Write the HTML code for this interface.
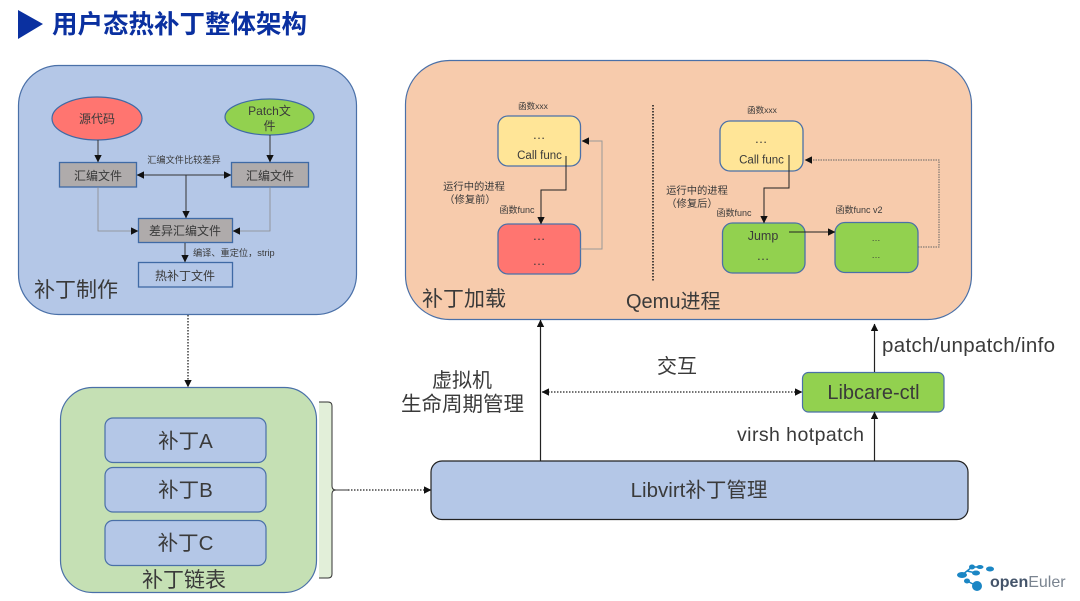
<!DOCTYPE html>
<html><head><meta charset="utf-8">
<style>
html,body{margin:0;padding:0;background:#fff;width:1080px;height:601px;overflow:hidden}
svg{display:block}
text{font-family:"Liberation Sans","Noto Sans CJK SC",sans-serif;fill:#3a3a3a}
</style></head><body>
<svg width="1080" height="601" viewBox="0 0 1080 601" xmlns="http://www.w3.org/2000/svg">
<defs>
<marker id="a" viewBox="0 0 10 10" refX="9.500" refY="5" markerWidth="7.500" markerHeight="7.500" orient="auto-start-reverse" markerUnits="userSpaceOnUse"><path d="M0 0L10 5L0 10z" fill="#111"/></marker>
</defs>
<!-- title -->
<path d="M18 10L43 24L18 39z" fill="#0a30a0"/>
<text x="52" y="33" font-size="25.500" font-weight="700" style="fill:#0a30a0">用户态热补丁整体架构</text>

<!-- panels -->
<rect x="18.500" y="65.500" width="338" height="249" rx="40" fill="#b4c7e7" stroke="#4a70a8" stroke-width="1.200"/>
<rect x="405.500" y="60.500" width="566" height="259" rx="44" fill="#f7cbac" stroke="#4a70a8" stroke-width="1.200"/>
<rect x="60.500" y="387.500" width="256" height="205" rx="32" fill="#c5e0b4" stroke="#4a70a8" stroke-width="1.200"/>

<!-- left panel -->
<ellipse cx="97" cy="118.500" rx="45" ry="21.500" fill="#ff7570" stroke="#3f6aa5" stroke-width="1.200"/>
<ellipse cx="269.500" cy="117" rx="44.500" ry="18" fill="#92d14f" stroke="#3f6aa5" stroke-width="1.200"/>
<text x="97" y="123" font-size="12" text-anchor="middle">源代码</text>
<text x="269.500" y="115" font-size="12" text-anchor="middle">Patch文</text>
<text x="269.500" y="130" font-size="12" text-anchor="middle">件</text>
<rect x="59.500" y="162.500" width="77" height="24.500" fill="#afabab" stroke="#3f6aa5" stroke-width="1.300"/>
<rect x="231.500" y="162.500" width="77" height="24.500" fill="#afabab" stroke="#3f6aa5" stroke-width="1.300"/>
<rect x="138.500" y="218.500" width="94" height="24" fill="#afabab" stroke="#3f6aa5" stroke-width="1.300"/>
<rect x="138.500" y="262.500" width="94" height="24.500" fill="none" stroke="#3f6aa5" stroke-width="1.300"/>
<text x="98" y="180" font-size="12" text-anchor="middle">汇编文件</text>
<text x="270" y="180" font-size="12" text-anchor="middle">汇编文件</text>
<text x="185" y="235" font-size="12" text-anchor="middle">差异汇编文件</text>
<text x="185" y="280" font-size="12" text-anchor="middle">热补丁文件</text>
<text x="184" y="163" font-size="9.200" text-anchor="middle">汇编文件比较差异</text>
<text x="193" y="256" font-size="9.200">编译、重定位，strip</text>
<text x="34" y="297" font-size="21">补丁制作</text>
<g fill="none" stroke="#333" stroke-width="1">
<path d="M98 140V162" marker-end="url(#a)"/>
<path d="M270 135V162" marker-end="url(#a)"/>
<path d="M137 175H231" marker-start="url(#a)" marker-end="url(#a)"/>
<path d="M186 175V218" marker-end="url(#a)"/>
<path d="M185 243V262" marker-end="url(#a)"/>
</g>
<g fill="none" stroke="#8a8a8a" stroke-width=".8">
<path d="M98 187V231H138" marker-end="url(#a)"/>
<path d="M270 187V231H233" marker-end="url(#a)"/>
</g>
<path d="M188 315V387" fill="none" stroke="#222" stroke-width="1.300" stroke-dasharray="1.500 1.500" marker-end="url(#a)"/>

<!-- loading panel left -->
<rect x="498" y="116" width="82.500" height="50" rx="10" fill="#ffe597" stroke="#4a70a8" stroke-width="1.300"/>
<rect x="498" y="224" width="82.500" height="50" rx="10" fill="#ff7570" stroke="#4a70a8" stroke-width="1.300"/>
<text x="539" y="139" font-size="13" text-anchor="middle">…</text>
<text x="539.500" y="159" font-size="11.500" text-anchor="middle">Call func</text>
<text x="539" y="240" font-size="13" text-anchor="middle">…</text>
<text x="539" y="265" font-size="13" text-anchor="middle">…</text>
<text x="533" y="109" font-size="8.500" text-anchor="middle">函数xxx</text>
<text x="517" y="213" font-size="9" text-anchor="middle">函数func</text>
<text x="474" y="190" font-size="10.300" text-anchor="middle">运行中的进程</text>
<text x="470" y="203" font-size="10.300" text-anchor="middle">（修复前）</text>
<path d="M566 156V190H541V224" fill="none" stroke="#222" stroke-width="1" marker-end="url(#a)"/>
<path d="M580.500 249H602V141H582" fill="none" stroke="#999" stroke-width="1" marker-end="url(#a)"/>
<path d="M653 105V282" stroke="#222" stroke-width="1.600" stroke-dasharray="1.500 1.500"/>

<!-- loading panel right -->
<rect x="720" y="121" width="83" height="50" rx="10" fill="#ffe597" stroke="#4a70a8" stroke-width="1.300"/>
<rect x="722.500" y="223" width="82.500" height="50" rx="10" fill="#92d14f" stroke="#4a70a8" stroke-width="1.300"/>
<rect x="835" y="222.500" width="83" height="50" rx="10" fill="#92d14f" stroke="#4a70a8" stroke-width="1.300"/>
<text x="761" y="143" font-size="13" text-anchor="middle">…</text>
<text x="761.500" y="163.500" font-size="11.500" text-anchor="middle">Call func</text>
<text x="763" y="240" font-size="12.500" text-anchor="middle">Jump</text>
<text x="763" y="260" font-size="13" text-anchor="middle">…</text>
<text x="876" y="241" font-size="9" text-anchor="middle">…</text>
<text x="876" y="258" font-size="9" text-anchor="middle">…</text>
<text x="762" y="113" font-size="8.500" text-anchor="middle">函数xxx</text>
<text x="734" y="216" font-size="9" text-anchor="middle">函数func</text>
<text x="859" y="213" font-size="9" text-anchor="middle">函数func v2</text>
<text x="697" y="194" font-size="10.300" text-anchor="middle">运行中的进程</text>
<text x="692" y="207" font-size="10.300" text-anchor="middle">（修复后）</text>
<path d="M789 155V188H764V223" fill="none" stroke="#222" stroke-width="1" marker-end="url(#a)"/>
<path d="M789 232H835" fill="none" stroke="#222" stroke-width="1" marker-end="url(#a)"/>
<path d="M918 247H939V160H805" fill="none" stroke="#666" stroke-width="1" stroke-dasharray="1.500 1" marker-end="url(#a)"/>
<text x="422" y="306" font-size="21">补丁加载</text>
<text x="626" y="308" font-size="20">Qemu进程</text>

<!-- patch chain -->
<rect x="105" y="418" width="161" height="44.500" rx="8" fill="#b4c7e7" stroke="#4a70a8" stroke-width="1.200"/>
<rect x="105" y="467.500" width="161" height="44.500" rx="8" fill="#b4c7e7" stroke="#4a70a8" stroke-width="1.200"/>
<rect x="105" y="520.500" width="161" height="45" rx="8" fill="#b4c7e7" stroke="#4a70a8" stroke-width="1.200"/>
<text x="185.500" y="448" font-size="20.500" text-anchor="middle">补丁A</text>
<text x="185.500" y="497" font-size="20.500" text-anchor="middle">补丁B</text>
<text x="185.500" y="550" font-size="20.500" text-anchor="middle">补丁C</text>
<text x="184" y="587" font-size="21" text-anchor="middle">补丁链表</text>

<!-- bracket -->
<path d="M319 402H328Q332 402 332 406V486Q332 490 336 490Q332 490 332 494V574Q332 578 328 578H319Z" fill="#e2efd9" stroke="none"/>
<path d="M319 402H328Q332 402 332 406V486Q332 490 336 490H348M336 490Q332 490 332 494V574Q332 578 328 578H319" fill="none" stroke="#333" stroke-width="1"/>
<path d="M348 490H431" fill="none" stroke="#222" stroke-width="1.300" stroke-dasharray="1.500 1.500" marker-end="url(#a)"/>

<!-- lower right -->
<rect x="431" y="461" width="537" height="58.500" rx="11" fill="#b4c7e7" stroke="#222" stroke-width="1.200"/>
<text x="699" y="497" font-size="20.500" text-anchor="middle">Libvirt补丁管理</text>
<rect x="802.500" y="372.500" width="141.500" height="39.500" rx="6" fill="#92d14f" stroke="#4a70a8" stroke-width="1.200"/>
<text x="873.500" y="399" font-size="20" text-anchor="middle">Libcare-ctl</text>
<path d="M540.500 461V320" fill="none" stroke="#222" stroke-width="1.200" marker-end="url(#a)"/>
<path d="M874.500 372V324" fill="none" stroke="#222" stroke-width="1.200" marker-end="url(#a)"/>
<path d="M874.500 461V412" fill="none" stroke="#222" stroke-width="1.200" marker-end="url(#a)"/>
<path d="M542 392H802" fill="none" stroke="#222" stroke-width="1.300" stroke-dasharray="1.500 1.500" marker-start="url(#a)" marker-end="url(#a)"/>
<text x="462" y="387" font-size="20" text-anchor="middle">虚拟机</text>
<text x="462.500" y="411" font-size="20.500" text-anchor="middle">生命周期管理</text>
<text x="677" y="373" font-size="20" text-anchor="middle">交互</text>
<text x="882" y="352" font-size="20.500" textLength="173">patch/unpatch/info</text>
<text x="737" y="441" font-size="19.500" textLength="127">virsh hotpatch</text>

<!-- logo -->
<g fill="#1b86c4">
<ellipse cx="990" cy="569" rx="4" ry="2.500"/>
<ellipse cx="972" cy="567" rx="3" ry="2.500"/>
<ellipse cx="980" cy="567" rx="3.500" ry="2"/>
<ellipse cx="976" cy="573" rx="4" ry="2.500"/>
<ellipse cx="962" cy="575" rx="5" ry="3"/>
<circle cx="977" cy="586" r="5"/>
<ellipse cx="967" cy="581" rx="3" ry="2.500"/>
</g>
<path d="M962 575L972 567H980M976 573L967 571M967 581L977 586" fill="none" stroke="#1b86c4" stroke-width="1.500"/>
<text x="990" y="587" font-size="16"><tspan font-weight="700" style="fill:#44546a">open</tspan><tspan style="fill:#7a8490">Euler</tspan></text>
</svg>
</body></html>
